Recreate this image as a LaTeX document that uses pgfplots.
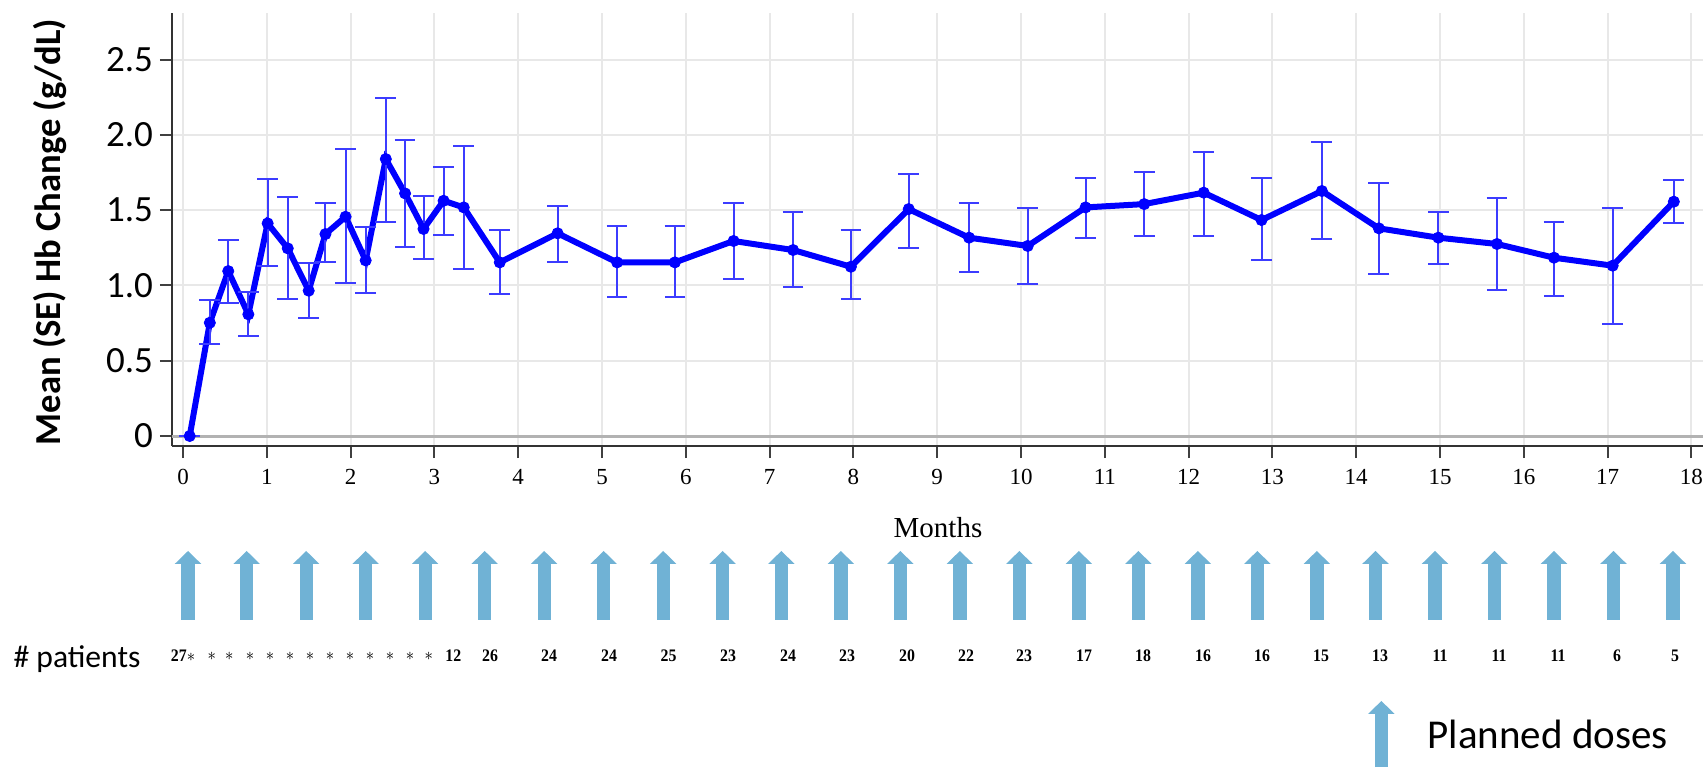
\documentclass[border=0pt]{standalone}
\usepackage{pgfplots}
\pgfplotsset{compat=1.18}
\usepackage{fontspec}
\setmainfont{Liberation Serif}
\newfontfamily\calibri{Carlito}
\usetikzlibrary{arrows.meta}
\definecolor{arrowblue}{RGB}{112,178,213}
\definecolor{errblue}{RGB}{60,60,255}
\definecolor{lineblue}{RGB}{0,0,255}
\begin{document}
\begin{tikzpicture}
\begin{axis}[
  at={(0,0)}, anchor=south west, scale only axis,
  width=765.5pt, height=216.5pt,
  xmin=-0.1313, xmax=18.138, ymin=-0.0664, ymax=2.809,
  axis x line*=bottom, axis y line*=left,
  axis line style={line width=1.2pt, color=black!80, -},
  xtick={0,1,...,18},
  ytick={0,0.5,1,1.5,2,2.5},
  yticklabels={0,0.5,1.0,1.5,2.0,2.5},
  tick align=outside, major tick length=6pt,
  tick style={line width=1pt, black!75},
  grid=major, major grid style={line width=1pt, color=black!9},
  /pgf/number format/assume math mode=true,
  xticklabel style={font=\fontsize{11.5}{11.5}\selectfont, yshift=-2pt},
  yticklabel style={font=\calibri\fontsize{18.5}{18.5}\selectfont},
  clip=false,
]
\draw[black!30, line width=1.5pt] (axis cs:-0.1313,0) -- (axis cs:18.138,0);
\addplot[color=lineblue, line width=3pt, mark=*, mark size=2.8pt,
  mark options={solid, line width=0.4pt},
  error bars/.cd, y dir=both, y explicit,
  error bar style={line width=1pt, color=errblue},
  error mark options={rotate=90, mark size=5.2pt, line width=1pt, color=errblue}]
  table[x=x, y=y, y error plus expr=\thisrow{top}-\thisrow{y}, y error minus expr=\thisrow{y}-\thisrow{bot}] {
x y top bot
0.08 0 0 0
0.32 0.752 0.90 0.61
0.54 1.095 1.30 0.885
0.78 0.808 0.958 0.664
1.01 1.412 1.705 1.131
1.25 1.246 1.585 0.908
1.50 0.965 1.151 0.786
1.70 1.341 1.545 1.157
1.94 1.456 1.904 1.014
2.18 1.166 1.386 0.948
2.42 1.839 2.247 1.423
2.65 1.611 1.965 1.253
2.87 1.375 1.596 1.173
3.11 1.562 1.784 1.333
3.35 1.518 1.926 1.107
3.78 1.153 1.368 0.943
4.47 1.346 1.529 1.155
5.18 1.153 1.397 0.921
5.87 1.153 1.397 0.921
6.57 1.295 1.545 1.040
7.28 1.235 1.490 0.987
7.97 1.124 1.368 0.907
8.66 1.507 1.740 1.250
9.38 1.317 1.545 1.091
10.08 1.262 1.516 1.011
10.77 1.518 1.715 1.317
11.47 1.540 1.755 1.330
12.18 1.616 1.888 1.330
12.87 1.434 1.715 1.169
13.59 1.627 1.950 1.306
14.27 1.379 1.678 1.076
14.98 1.317 1.490 1.142
15.68 1.275 1.583 0.969
16.36 1.184 1.423 0.932
17.06 1.131 1.516 0.744
17.79 1.556 1.700 1.412
};
% planned dose arrows
\addplot[quiver={u=0,v=0.4582}, draw=arrowblue, line width=6.67pt,
  -{Triangle[width=13.3pt,length=6.5pt,line width=0pt]}, mark=none]
  table[x=x,y=y] {
x y
0.06 -1.2218
0.76 -1.2218
1.47 -1.2218
2.18 -1.2218
2.89 -1.2218
3.60 -1.2218
4.31 -1.2218
5.02 -1.2218
5.73 -1.2218
6.44 -1.2218
7.14 -1.2218
7.85 -1.2218
8.56 -1.2218
9.27 -1.2218
9.98 -1.2218
10.69 -1.2218
11.40 -1.2218
12.11 -1.2218
12.82 -1.2218
13.53 -1.2218
14.23 -1.2218
14.94 -1.2218
15.65 -1.2218
16.36 -1.2218
17.07 -1.2218
17.78 -1.2218
};
% legend arrow
\addplot[quiver={u=0,v=0.4384}, draw=arrowblue, line width=6.67pt,
  -{Triangle[width=13.3pt,length=6.5pt,line width=0pt]}, mark=none]
  coordinates {(14.30,-2.198)};
\end{axis}
% texts
\node[rotate=90, font=\calibri\bfseries\fontsize{18.3}{18.3}\selectfont] at (-61pt,107pt) {Mean (SE) Hb Change (g/dL)};
\node[anchor=base, font=\fontsize{14.5}{14.5}\selectfont] at (383pt,-45.5pt) {Months};
\node[font=\calibri\fontsize{15.8}{15.8}\selectfont] at (-47.5pt,-106.5pt) {\# patients};
\node[anchor=base west, font=\calibri\fontsize{20.5}{20.5}\selectfont] at (624.3pt,-151.2pt) {Planned doses};
\foreach \xp/\t in {5.5/{27$\ast$},19.85/{$\ast$},28.65/{$\ast$},39/{$\ast$},49/{$\ast$},59/{$\ast$},69/{$\ast$},79/{$\ast$},89/{$\ast$},99/{$\ast$},109/{$\ast$},119/{$\ast$},128.35/{$\ast$},140.65/12,159/26,188.5/24,218.5/24,248.25/25,278/23,308/24,337.5/23,367.5/20,397/22,426/23,456/17,485.5/18,515.5/16,545/16,574.5/15,604/13,634/11,663.5/11,693/11,722.5/6,751.5/5}
  \node[font=\bfseries\fontsize{8.8}{8.8}\selectfont, xscale=0.9, inner sep=0pt] at (\xp pt,-105pt) {\t};
\pgfresetboundingbox
\path[use as bounding box] (-86pt,-160.5pt) rectangle (766pt,223pt);
\end{tikzpicture}
\end{document}
